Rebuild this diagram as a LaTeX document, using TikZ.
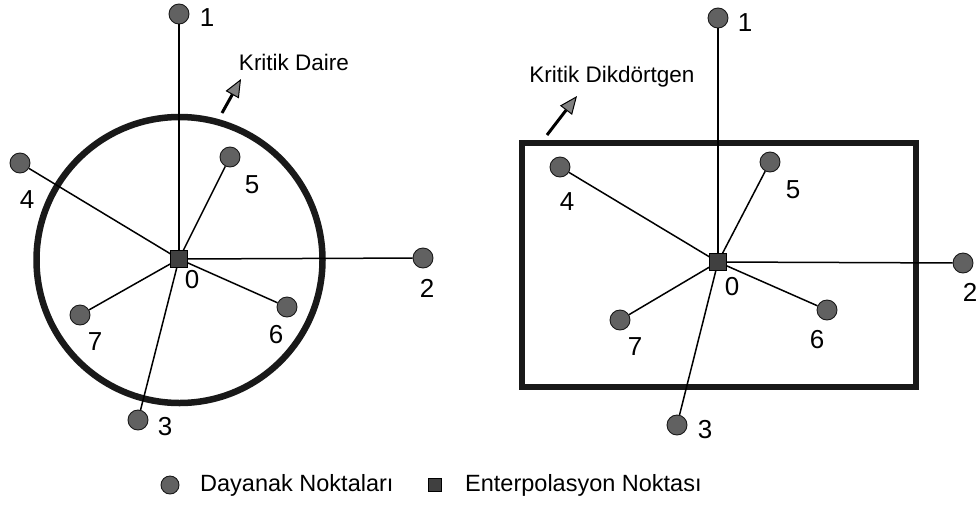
\documentclass[tikz,border=0pt]{standalone}
\usepackage{fontspec}
\setmainfont{Liberation Sans}
\usetikzlibrary{arrows.meta}
\begin{document}
\begin{tikzpicture}[x=1pt,y=-1pt,
 pt/.style={circle,fill=black!62,draw=black!90,line width=0.9pt,minimum size=20pt,inner sep=0pt},
 ctr/.style={rectangle,fill=black!75,draw=black,line width=0.6pt,minimum size=17pt,inner sep=0pt},
 lbl/.style={font=\fontsize{26}{29}\selectfont,inner sep=0pt},
 conn/.style={line width=1.5pt},
 crit/.style={line width=6.5pt,draw=black!90},
 callout/.style={line width=3pt,-{Triangle[length=18pt,width=15pt,fill=black!50,line width=1pt]}},
 ttl/.style={font=\fontsize{22.5}{26}\selectfont,inner sep=0pt},
]
\useasboundingbox (0,0) rectangle (977,509);
% ---------- left: critical circle ----------
\draw[crit] (179.5,260) circle (143pt);
\node[ctr] (L0) at (179,259) {};
\node[pt] (L1) at (179,14) {};
\node[pt] (L2) at (423,258) {};
\node[pt] (L3) at (138,420) {};
\node[pt] (L4) at (20,163) {};
\node[pt] (L5) at (230,157) {};
\node[pt] (L6) at (287,307) {};
\node[pt] (L7) at (80,315) {};
\foreach \n in {1,...,7}{\draw[conn] (L0) -- (L\n);}
\node[lbl] (tL0) at (192,280) {0};
\node[lbl] (tL1) at (207,18) {1};
\node[lbl] (tL2) at (427,288) {2};
\node[lbl] (tL3) at (165,427) {3};
\node[lbl] (tL4) at (27,200) {4};
\node[lbl] (tL5) at (252,185) {5};
\node[lbl] (tL6) at (276,335) {6};
\node[lbl] (tL7) at (95,342) {7};
\coordinate (aLs) at (222,113);
\coordinate (aLe) at (241,79);
\draw[callout] (aLs) -- (aLe);
\node[ttl] (kd) at (294,62) {Kritik Daire};
% ---------- right: critical rectangle ----------
\draw[crit] (522,143) rectangle (916,387);
\node[ctr] (R0) at (718,262) {};
\node[pt] (R1) at (718,18) {};
\node[pt] (R2) at (963,263) {};
\node[pt] (R3) at (677,425) {};
\node[pt] (R4) at (560,167) {};
\node[pt] (R5) at (770,162) {};
\node[pt] (R6) at (827,310) {};
\node[pt] (R7) at (620,320) {};
\foreach \n in {1,...,7}{\draw[conn] (R0) -- (R\n);}
\node[lbl] (tR0) at (732,287) {0};
\node[lbl] (tR1) at (745,23) {1};
\node[lbl] (tR2) at (970,292) {2};
\node[lbl] (tR3) at (705,430) {3};
\node[lbl] (tR4) at (567,202) {4};
\node[lbl] (tR5) at (793,190) {5};
\node[lbl] (tR6) at (817,340) {6};
\node[lbl] (tR7) at (635,347) {7};
\coordinate (aRs) at (547,135);
\coordinate (aRe) at (577,96);
\draw[callout] (aRs) -- (aRe);
\node[ttl] (kdd) at (612,77) {Kritik Dikdörtgen};
% ---------- legend ----------
\node[pt,minimum size=18pt] (lg1) at (170,485) {};
\node[ttl,anchor=west,font=\fontsize{23.5}{27}\selectfont] (lgt1) at (200,485) {Dayanak Noktaları};
\node[ctr,minimum size=13pt] (lg2) at (435,485) {};
\node[ttl,anchor=west,font=\fontsize{23.5}{27}\selectfont] (lgt2) at (465,485) {Enterpolasyon Noktası};
\end{tikzpicture}
\end{document}
